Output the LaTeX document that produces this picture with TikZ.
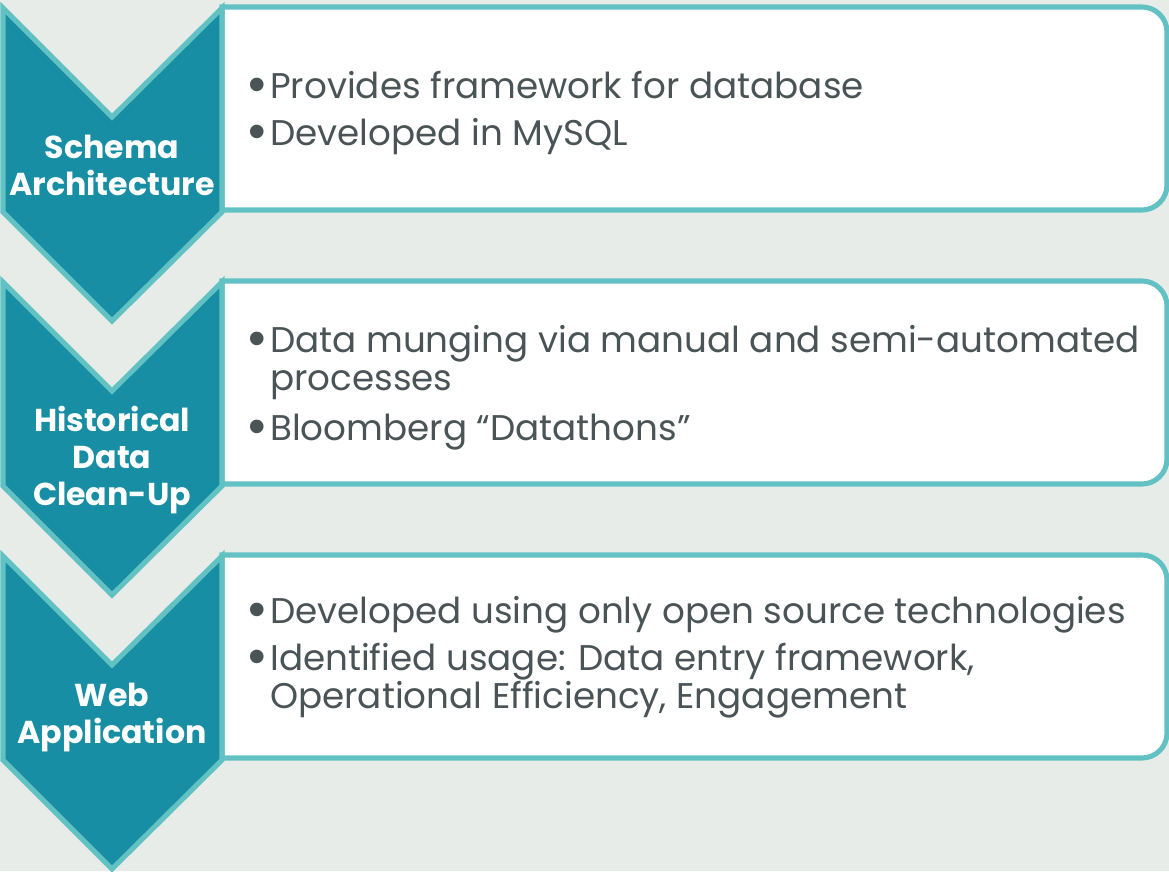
\documentclass[tikz,border=0pt]{standalone}
\usepackage{fontspec}
\setmainfont{Poppins}
\newfontfamily\bulfont{Liberation Sans}
\definecolor{bgrey}{HTML}{E7ECE9}
\definecolor{tealdark}{HTML}{178EA3}
\definecolor{teallight}{HTML}{62C1C2}
\definecolor{slate}{HTML}{4A5457}
\newcommand{\bul}{\makebox[15.6pt][l]{\raisebox{-0.1em}{\scalebox{1.4}{\bulfont •}}}}

\begin{document}
\begin{tikzpicture}[x=0.025cm, y=-0.025cm,
    chevron/.style={fill=tealdark, draw=teallight, line width=3.6pt, line join=miter},
    panel/.style={fill=white, draw=teallight, line width=3.6pt},
    steplabel/.style={text=white, font=\bfseries\fontsize{22.5}{26.3}\selectfont, align=center, anchor=base, inner sep=0pt},
    item/.style={text=slate, font=\fontsize{25.4}{27}\selectfont, anchor=base west, inner sep=0pt}]
    \fill[bgrey] (0,0) rectangle (1169,871);
    \useasboundingbox (0,0) rectangle (1169,871);

    % panels
    \draw[panel] (222,7) -- (1142,7) .. controls (1155.8,7) and (1167,18.2) .. (1167,32)
        -- (1167,185) .. controls (1167,198.8) and (1155.8,210) .. (1142,210) -- (222,210) -- cycle;
    \draw[panel] (222,281) -- (1142,281) .. controls (1155.8,281) and (1167,292.2) .. (1167,306)
        -- (1167,459) .. controls (1167,472.8) and (1155.8,484) .. (1142,484) -- (222,484) -- cycle;
    \draw[panel] (222,555) -- (1142,555) .. controls (1155.8,555) and (1167,566.2) .. (1167,580)
        -- (1167,733) .. controls (1167,746.8) and (1155.8,758) .. (1142,758) -- (222,758) -- cycle;

    % chevrons
    \draw[chevron] (3,8) -- (112,117) -- (222,8) -- (222,212) -- (112,321) -- (3,212) -- cycle;
    \draw[chevron] (3,282) -- (112,391) -- (222,282) -- (222,486) -- (112,595) -- (3,486) -- cycle;
    \draw[chevron] (3,556) -- (112,665) -- (222,556) -- (222,760) -- (112,869) -- (3,760) -- cycle;

    % base = last line
    \node[steplabel] (schema) at (112,195) {Schema\\Architecture};
    \node[steplabel] (cleanup) at (112,505) {Historical\\Data\\Clean-Up};
    \node[steplabel] (webapp) at (112,743) {Web\\Application};

    % items
    \node[item] (schema1) at (248,98) {\bul Provides framework for database};
    \node[item] (schema2) at (248,145) {\bul Developed in MySQL};

    \node[item] (cleanup1) at (248,352) {\bul Data munging via manual and semi-automated};
    \node[item] (cleanup1b) at (270,390) {processes};
    \node[item] (cleanup2) at (248,440) {\bul Bloomberg “Datathons”};

    \node[item] (webapp1) at (248,623) {\bul Developed using only open source technologies};
    \node[item] (webapp2) at (248,670) {\bul Identified usage: Data entry framework,};
    \node[item] (webapp2b) at (270,708) {Operational Efficiency, Engagement};
\end{tikzpicture}
\end{document}
